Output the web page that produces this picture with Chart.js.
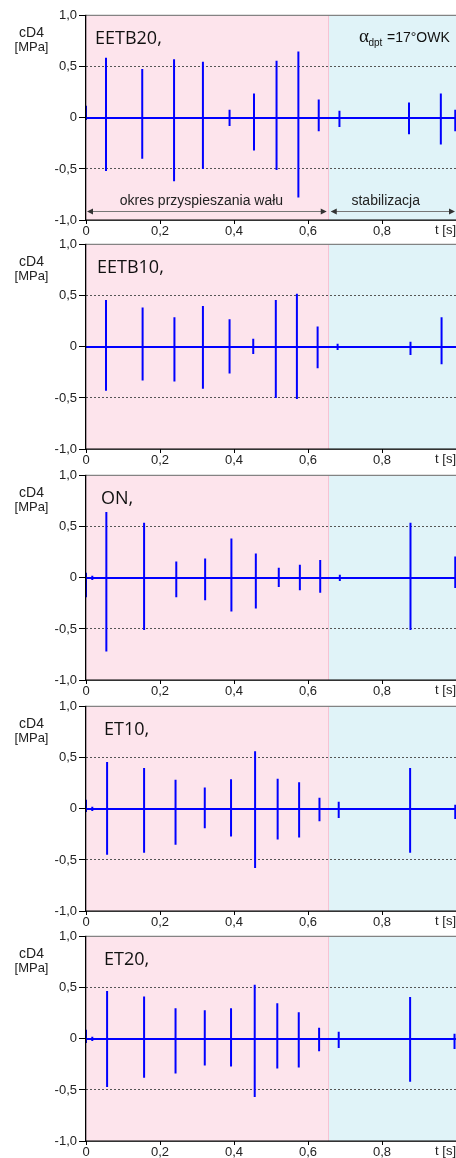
<!DOCTYPE html>
<html lang="pl">
<head>
<meta charset="utf-8">
<title>cD4 – przebiegi</title>
<script src="https://cdn.jsdelivr.net/npm/chart.js@4.4.1/dist/chart.umd.min.js"></script>
<style>
  html, body { margin: 0; padding: 0; background: #fff; }
  #wrap { position: relative; width: 456px; height: 1158px; overflow: hidden; }
  .panel { position: absolute; left: 0; width: 456px; height: 240px; }
</style>
</head>
<body>
<div id="wrap"></div>
<script>
// --- dane ---
const panelNames = ['EETB20,', 'EETB10,', 'ON,', 'ET10,', 'ET20,'];
const xTicks = [0, 0.2, 0.4, 0.6, 0.8, 1.0];
const xTickLabels = ['0', '0,2', '0,4', '0,6', '0,8', ''];
const yTicks = [-1, -0.5, 0, 0.5, 1];
const yTickLabels = ['-1,0', '-0,5', '0', '0,5', '1,0'];
const phaseSplit = 0.656; // koniec okresu przyspieszania [s]

// impulsy: czas [s], wartosc max, wartosc min [MPa]
const eetb20T    = [0.0, 0.054, 0.152, 0.238, 0.316, 0.388, 0.454, 0.515, 0.574, 0.629, 0.685, 0.873, 0.959, 0.998];
const eetb20Up   = [0.12, 0.59, 0.48, 0.575, 0.55, 0.08, 0.24, 0.56, 0.65, 0.18, 0.07, 0.15, 0.24, 0.08];
const eetb20Down = [-0.02, -0.52, -0.40, -0.62, -0.50, -0.08, -0.32, -0.51, -0.78, -0.13, -0.09, -0.16, -0.26, -0.13];

const eetb10T    = [0.054, 0.153, 0.239, 0.316, 0.388, 0.452, 0.513, 0.570, 0.626, 0.680, 0.877, 0.961];
const eetb10Up   = [0.46, 0.385, 0.29, 0.40, 0.27, 0.08, 0.46, 0.52, 0.20, 0.03, 0.05, 0.29];
const eetb10Down = [-0.43, -0.33, -0.34, -0.41, -0.26, -0.07, -0.50, -0.51, -0.21, -0.03, -0.08, -0.17];

const onT    = [0.0, 0.017, 0.055, 0.157, 0.244, 0.322, 0.393, 0.459, 0.521, 0.578, 0.633, 0.686, 0.877, 0.998];
const onUp   = [0.05, 0.02, 0.645, 0.54, 0.16, 0.19, 0.385, 0.24, 0.10, 0.13, 0.175, 0.03, 0.54, 0.21];
const onDown = [-0.19, -0.02, -0.72, -0.51, -0.19, -0.22, -0.33, -0.30, -0.09, -0.12, -0.145, -0.03, -0.51, -0.10];

const et10T    = [0.0, 0.017, 0.057, 0.157, 0.242, 0.321, 0.392, 0.457, 0.518, 0.576, 0.631, 0.683, 0.876, 0.998];
const et10Up   = [0.09, 0.02, 0.46, 0.40, 0.285, 0.21, 0.29, 0.565, 0.295, 0.26, 0.11, 0.07, 0.40, 0.04];
const et10Down = [-0.03, -0.02, -0.45, -0.43, -0.35, -0.19, -0.27, -0.58, -0.30, -0.28, -0.12, -0.09, -0.43, -0.10];

const et20T    = [0.0, 0.017, 0.057, 0.157, 0.242, 0.321, 0.392, 0.456, 0.517, 0.575, 0.630, 0.683, 0.876, 0.996];
const et20Up   = [0.09, 0.02, 0.47, 0.415, 0.30, 0.28, 0.30, 0.53, 0.35, 0.26, 0.11, 0.07, 0.41, 0.05];
const et20Down = [-0.04, -0.02, -0.47, -0.38, -0.34, -0.26, -0.27, -0.57, -0.29, -0.28, -0.12, -0.09, -0.42, -0.10];

const series = [
  [eetb20T, eetb20Up, eetb20Down],
  [eetb10T, eetb10Up, eetb10Down],
  [onT, onUp, onDown],
  [et10T, et10Up, et10Down],
  [et20T, et20Up, et20Down],
];

// --- uklad ---
const plotTops = [14, 243, 474, 705, 935];
const plotH = 206;
const padTop = 8;
const canvasH = 240;
const labelX = [95, 97, 101, 104, 104];

Chart.defaults.font.family = '"Liberation Sans", Arial, sans-serif';
Chart.defaults.font.size = 13;
Chart.defaults.color = '#222';

function buildPoints(ts, up, down) {
  const pts = [{ x: 0, y: 0 }];
  for (let i = 0; i < ts.length; i++) {
    pts.push({ x: ts[i], y: 0 }, { x: ts[i], y: up[i] }, { x: ts[i], y: down[i] }, { x: ts[i], y: 0 });
  }
  pts.push({ x: 1, y: 0 });
  return pts;
}

function arrowHead(ctx, x, y, dir) {
  ctx.beginPath();
  ctx.moveTo(x, y);
  ctx.lineTo(x - dir * 6, y - 3);
  ctx.lineTo(x - dir * 6, y + 3);
  ctx.closePath();
  ctx.fill();
}

function makeDecor(idx) {
  return {
    id: 'decor' + idx,
    beforeDraw(chart) {
      const { ctx, chartArea: a, scales: { x } } = chart;
      const xs = x.getPixelForValue(phaseSplit);
      ctx.save();
      ctx.fillStyle = '#fde4ec';
      ctx.fillRect(a.left, a.top, xs - a.left, a.bottom - a.top);
      ctx.fillStyle = '#e0f3f8';
      ctx.fillRect(xs, a.top, a.right - xs, a.bottom - a.top);
      ctx.fillStyle = '#f6c3d3';
      ctx.fillRect(Math.round(xs) - 1, a.top, 1, a.bottom - a.top);
      ctx.restore();
    },
    afterDraw(chart) {
      const { ctx, chartArea: a, scales: { x, y } } = chart;
      ctx.save();
      // ramka
      ctx.fillStyle = '#666';
      ctx.fillRect(a.left, a.top - 1, a.right - a.left, 1);
      ctx.fillStyle = '#000';
      ctx.fillRect(a.left - 1, a.top - 1, 1.3, a.bottom - a.top + 2);
      ctx.fillRect(a.left - 1, a.bottom - 0.5, a.right - a.left + 1, 1.3);

      // opis osi Y
      ctx.fillStyle = '#222';
      ctx.textAlign = 'center';
      ctx.textBaseline = 'middle';
      ctx.font = '14px "Liberation Sans", Arial, sans-serif';
      ctx.fillText('cD4', 31.5, a.top + 17);
      ctx.font = '13px "Liberation Sans", Arial, sans-serif';
      ctx.fillText('[MPa]', 31.5, a.top + 31.5);

      // opis osi X
      ctx.textAlign = 'right';
      ctx.textBaseline = 'top';
      ctx.fillText('t [s]', 456, a.bottom + 4);

      // nazwa paliwa
      ctx.fillStyle = '#111';
      ctx.textAlign = 'left';
      ctx.textBaseline = 'alphabetic';
      ctx.font = '18px "Open Sans", sans-serif';
      ctx.fillText(panelNames[idx], labelX[idx], a.top + 28);

      if (idx === 0) {
        // kat wtrysku
        ctx.fillStyle = '#111';
        ctx.font = '19px "Liberation Serif", serif';
        ctx.fillText('\u03b1', 359, a.top + 26);
        ctx.font = '10px "Liberation Sans", Arial, sans-serif';
        ctx.fillText('dpt', 368.5, a.top + 30);
        ctx.font = '14px "Liberation Sans", Arial, sans-serif';
        ctx.fillText('=17\u00b0OWK', 387, a.top + 26);

        // strzalki okresow
        const xs = x.getPixelForValue(phaseSplit);
        const ya = Math.round(y.getPixelForValue(-0.91)) + 0.5;
        ctx.strokeStyle = '#777';
        ctx.fillStyle = '#333';
        ctx.lineWidth = 1;
        ctx.beginPath();
        ctx.moveTo(a.left + 2, ya); ctx.lineTo(xs - 3, ya);
        ctx.moveTo(xs + 3, ya); ctx.lineTo(a.right - 2, ya);
        ctx.stroke();
        arrowHead(ctx, a.left + 1, ya, -1);
        arrowHead(ctx, xs - 2, ya, 1);
        arrowHead(ctx, xs + 2, ya, -1);
        arrowHead(ctx, a.right - 1, ya, 1);

        ctx.fillStyle = '#222';
        ctx.font = '14px "Liberation Sans", Arial, sans-serif';
        ctx.textAlign = 'center';
        ctx.textBaseline = 'middle';
        const yt = y.getPixelForValue(-0.82);
        ctx.fillText('okres przyspieszania wału', x.getPixelForValue(0.312), yt);
        ctx.fillText('stabilizacja', x.getPixelForValue(0.81), yt);
      }
      ctx.restore();
    }
  };
}

const wrap = document.getElementById('wrap');

series.forEach((s, idx) => {
  const box = document.createElement('div');
  box.className = 'panel';
  box.style.top = (plotTops[idx] - padTop) + 'px';
  const cv = document.createElement('canvas');
  cv.width = 456;
  cv.height = canvasH;
  box.appendChild(cv);
  wrap.appendChild(box);

  new Chart(cv, {
    type: 'line',
    data: {
      datasets: [{
        label: panelNames[idx],
        data: buildPoints(s[0], s[1], s[2]),
        borderColor: '#0000ff',
        borderWidth: 2,
        pointRadius: 0,
        tension: 0,
        fill: false,
      }]
    },
    options: {
      responsive: false,
      animation: false,
      events: [],
      layout: { autoPadding: false, padding: { top: padTop, left: 0, right: 0, bottom: 0 } },
      plugins: { legend: { display: false }, tooltip: { enabled: false } },
      scales: {
        x: {
          type: 'linear',
          min: 0,
          max: 1,
          afterBuildTicks: (sc) => { sc.ticks = xTicks.map((v) => ({ value: v })); },
          afterFit: (sc) => { sc.height = canvasH - padTop - plotH; },
          ticks: {
            padding: 0,
            maxRotation: 0,
            autoSkip: false,
            callback: (v) => xTickLabels[xTicks.indexOf(v)] ?? '',
          },
          grid: { drawOnChartArea: false, tickLength: 4, tickColor: '#000' },
          border: { display: false },
        },
        y: {
          min: -1,
          max: 1,
          afterBuildTicks: (sc) => { sc.ticks = yTicks.map((v) => ({ value: v })); },
          afterFit: (sc) => { sc.width = 86; },
          ticks: {
            padding: 2,
            autoSkip: false,
            callback: (v) => yTickLabels[yTicks.indexOf(v)] ?? '',
          },
          grid: {
            color: (c) => (c.tick && Math.abs(c.tick.value) === 0.5 ? '#555' : 'rgba(0,0,0,0)'),
            lineWidth: 1,
            tickLength: 7,
            tickColor: '#000',
            tickBorderDash: [],
          },
          border: { display: false, dash: [2, 2] },
        }
      }
    },
    plugins: [makeDecor(idx)]
  });
});
</script>
</body>
</html>
